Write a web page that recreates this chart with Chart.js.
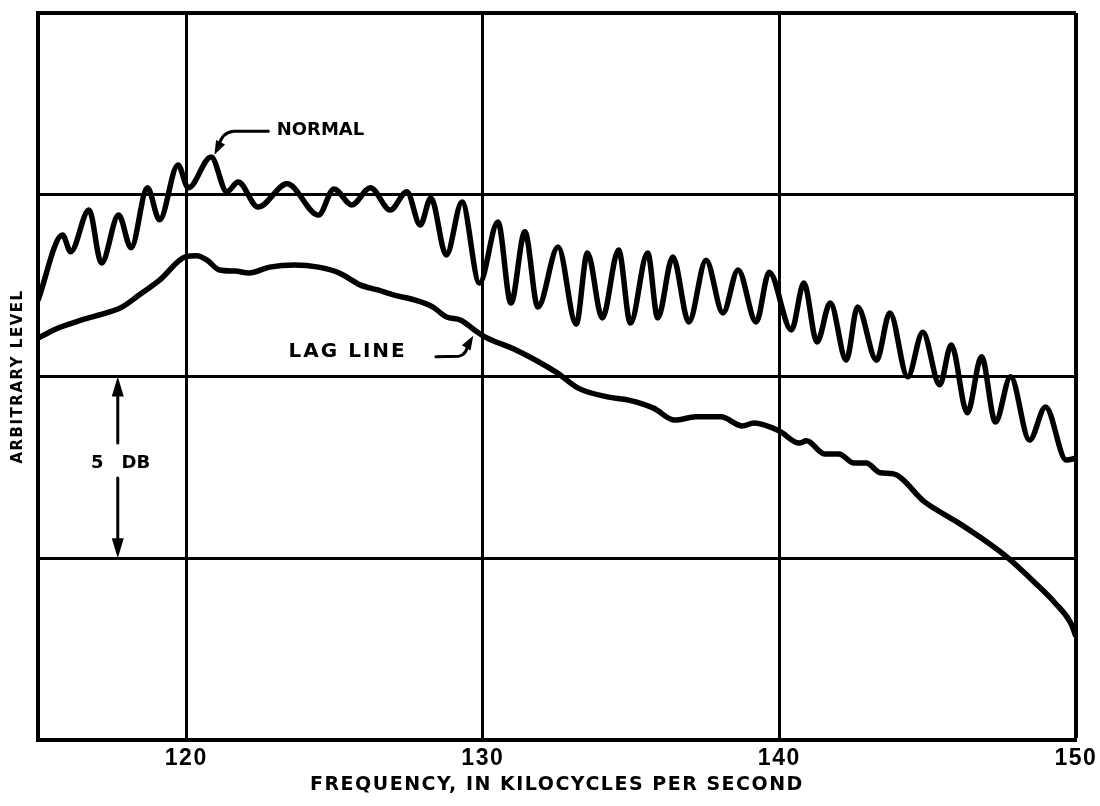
<!DOCTYPE html>
<html>
<head>
<meta charset="utf-8">
<script src="https://cdn.jsdelivr.net/npm/chart.js@4.4.1/dist/chart.umd.min.js"></script>
<style>
  html, body { margin: 0; padding: 0; background: #fff; }
  #wrap { width: 1100px; height: 806px; }
</style>
</head>
<body>
<div id="wrap"><canvas id="response"></canvas></div>
<script>
// frequency in kc/s, level in dB (arbitrary zero at the bottom of the grid)
var normalFreq = [115.00, 115.83, 116.10, 116.72, 117.14, 117.72, 118.14, 118.69, 119.10, 119.72,
  120.07, 120.84, 121.37, 121.75, 122.42, 123.40, 124.46, 124.98, 125.58, 126.21,
  126.88, 127.44, 127.89, 128.25, 128.77, 129.30, 129.89, 130.51, 130.95, 131.42,
  131.86, 132.54, 133.15, 133.53, 134.03, 134.58, 134.98, 135.56, 135.90, 136.41,
  136.95, 137.53, 138.10, 138.61, 139.22, 139.66, 140.41, 140.83, 141.27, 141.72,
  142.26, 142.64, 143.28, 143.73, 144.33, 144.84, 145.41, 145.80, 146.34, 146.82,
  147.29, 147.80, 148.44, 148.98, 149.68, 150.00];
var normalLevel = [12.10, 13.89, 13.43, 14.58, 13.12, 14.44, 13.54, 15.19, 14.31, 15.82,
  15.19, 16.04, 15.08, 15.35, 14.66, 15.30, 14.44, 15.16, 14.72, 15.19,
  14.58, 15.08, 14.17, 14.91, 13.34, 14.80, 12.57, 14.25, 12.02, 13.98,
  11.91, 13.56, 11.44, 13.40, 11.61, 13.48, 11.47, 13.40, 11.61, 13.29,
  11.50, 13.20, 11.75, 12.93, 11.50, 12.87, 11.28, 12.57, 10.95, 12.02,
  10.45, 11.91, 10.45, 11.75, 9.99, 11.22, 9.77, 10.87, 9.00, 10.54,
  8.75, 9.99, 8.25, 9.16, 7.70, 7.75];

var lagFreq = [115.00, 115.76, 116.45, 117.38, 117.83, 118.41, 119.10, 119.97, 120.35, 120.70,
  121.12, 121.65, 122.11, 122.81, 123.65, 124.46, 125.16, 125.86, 126.46, 127.02,
  127.72, 128.32, 128.77, 129.26, 129.72, 130.07, 131.12, 132.51, 133.22, 134.20,
  134.92, 135.76, 136.47, 137.19, 138.03, 138.75, 139.15, 140.00, 140.67, 140.92,
  141.53, 142.01, 142.52, 142.93, 143.41, 143.85, 144.90, 145.99, 146.91, 147.71,
  148.63, 149.30, 149.84, 150.00];
var lagLevel = [11.06, 11.36, 11.55, 11.77, 11.91, 12.24, 12.65, 13.29, 13.32, 13.20,
  12.93, 12.90, 12.85, 13.01, 13.07, 13.01, 12.85, 12.52, 12.38, 12.24,
  12.10, 11.91, 11.64, 11.55, 11.28, 11.09, 10.73, 10.10, 9.68, 9.44,
  9.35, 9.13, 8.80, 8.89, 8.89, 8.64, 8.72, 8.50, 8.17, 8.23,
  7.87, 7.87, 7.62, 7.62, 7.35, 7.32, 6.55, 6.00, 5.50, 5.01,
  4.32, 3.77, 3.20, 2.85];

var freqTicks = [120, 130, 140, 150];
var levelStep = 5;

function toPoints(xs, ys) {
  return xs.map(function(x, i) { return { x: x, y: ys[i] }; });
}

function arrowHead(ctx, fromX, fromY, tipX, tipY, len, half) {
  var a = Math.atan2(tipY - fromY, tipX - fromX);
  ctx.beginPath();
  ctx.moveTo(tipX, tipY);
  ctx.lineTo(tipX - len * Math.cos(a) + half * Math.sin(a), tipY - len * Math.sin(a) - half * Math.cos(a));
  ctx.lineTo(tipX - len * Math.cos(a) - half * Math.sin(a), tipY - len * Math.sin(a) + half * Math.cos(a));
  ctx.closePath();
  ctx.fill();
}

// wide hand lettering for the axis titles
var spacing = {
  id: "spacing",
  beforeDraw: function(chart) { chart.ctx.letterSpacing = "1.5px"; },
  afterDraw: function(chart) { chart.ctx.letterSpacing = "0px"; }
};

// hand lettering and arrows drawn on the plot
var notes = {
  id: "notes",
  afterDatasetsDraw: function(chart) {
    var ctx = chart.ctx;
    var sx = chart.scales.x, sy = chart.scales.y;
    function px(v) { return sx.getPixelForValue(v); }
    function py(v) { return sy.getPixelForValue(v); }
    ctx.save();
    ctx.fillStyle = "#000";
    ctx.strokeStyle = "#000";
    ctx.lineWidth = 3;
    ctx.lineCap = "round";
    ctx.textBaseline = "middle";
    ctx.letterSpacing = "0px";
    ctx.font = "bold 18px 'DejaVu Sans', sans-serif";

    // NORMAL
    ctx.fillText("NORMAL", px(123.05), py(16.78));
    ctx.beginPath();
    ctx.moveTo(px(122.77), py(16.75));
    ctx.lineTo(px(121.6), py(16.75));
    ctx.quadraticCurveTo(px(121.2), py(16.72), px(121.1), py(16.35));
    ctx.stroke();
    arrowHead(ctx, px(121.1), py(16.35), px(120.95), py(16.1), 14, 5);

    // LAG LINE
    ctx.letterSpacing = "2px";
    ctx.font = "bold 20px 'DejaVu Sans', sans-serif";
    ctx.fillText("LAG LINE", px(123.45), py(10.68));
    ctx.letterSpacing = "0px";
    ctx.beginPath();
    ctx.moveTo(px(128.42), py(10.54));
    ctx.lineTo(px(129.2), py(10.56));
    ctx.quadraticCurveTo(px(129.45), py(10.6), px(129.5), py(10.88));
    ctx.stroke();
    arrowHead(ctx, px(129.45), py(10.8), px(129.68), py(11.12), 14, 5);

    // 5 DB scale marker
    var mx = px(117.69);
    ctx.beginPath();
    ctx.moveTo(mx, py(9.6));
    ctx.lineTo(mx, py(8.17));
    ctx.moveTo(mx, py(7.21));
    ctx.lineTo(mx, py(5.4));
    ctx.stroke();
    arrowHead(ctx, mx, py(9), mx, py(10.0), 20, 6);
    arrowHead(ctx, mx, py(6), mx, py(5.0), 20, 6);
    ctx.font = "bold 18px 'DejaVu Sans', sans-serif";
    ctx.textAlign = "center";
    ctx.fillText("5", px(117.0), py(7.62));
    ctx.fillText("DB", px(118.3), py(7.62));
    ctx.restore();
  }
};

var ctx = document.getElementById("response").getContext("2d");
var chart = new Chart(ctx, {
  type: "line",
  data: {
    datasets: [
      {
        label: "NORMAL",
        data: toPoints(normalFreq, normalLevel),
        borderColor: "#000",
        borderWidth: 5.5,
        pointRadius: 0,
        fill: false,
        cubicInterpolationMode: "monotone"
      },
      {
        label: "LAG LINE",
        data: toPoints(lagFreq, lagLevel),
        borderColor: "#000",
        borderWidth: 5.5,
        pointRadius: 0,
        fill: false,
        cubicInterpolationMode: "monotone"
      }
    ]
  },
  options: {
    responsive: true,
    maintainAspectRatio: false,
    animation: false,
    events: [],
    layout: { padding: { top: 13, right: 23, left: 0, bottom: 0 } },
    plugins: {
      legend: { display: false },
      tooltip: { enabled: false }
    },
    scales: {
      x: {
        type: "linear",
        min: 115,
        max: 150,
        afterBuildTicks: function(axis) {
          axis.ticks = freqTicks.map(function(v) { return { value: v }; });
        },
        afterFit: function(axis) { axis.height = 66; },
        grid: {
          color: "#000",
          lineWidth: function(c) { return c.tick && c.tick.value === 150 ? 4 : 3; },
          drawTicks: false
        },
        border: { color: "#000", width: 4 },
        ticks: {
          color: "#000",
          padding: 5,
          maxRotation: 0,
          font: { family: "'Liberation Sans', sans-serif", weight: "bold", size: 23 }
        },
        title: {
          display: true,
          text: "FREQUENCY, IN KILOCYCLES PER SECOND",
          color: "#000",
          padding: { top: 0, bottom: 10 },
          font: { family: "'DejaVu Sans', sans-serif", weight: "bold", size: 19 }
        }
      },
      y: {
        min: 0,
        max: 20,
        afterFit: function(axis) { axis.width = 38; },
        grid: {
          color: "#000",
          lineWidth: function(c) { return c.tick && c.tick.value === 20 ? 4 : 3; },
          drawTicks: false
        },
        border: { color: "#000", width: 4 },
        ticks: { display: false, stepSize: levelStep },
        title: {
          display: true,
          text: "ARBITRARY LEVEL",
          color: "#000",
          padding: { top: 9, bottom: 0 },
          font: { family: "'DejaVu Sans', sans-serif", weight: "bold", size: 15 }
        }
      }
    }
  },
  plugins: [spacing, notes]
});
</script>
</body>
</html>
